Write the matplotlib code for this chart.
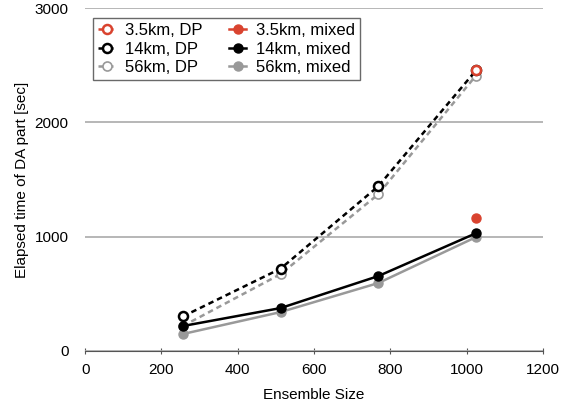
import matplotlib
matplotlib.use('Agg')
import matplotlib.pyplot as plt

plt.rcParams['font.family'] = ['Liberation Sans', 'DejaVu Sans']

ens = [256, 512, 768, 1024]
ens_3p5 = [1024]
dp_3p5 = [2462]
mx_3p5 = [1160]
dp_14 = [302, 720, 1441, 2455]
dp_56 = [218, 672, 1371, 2410]
mx_14 = [218, 375, 655, 1030]
mx_56 = [148, 340, 594, 996]

red = '#d9432f'
grey = '#999999'

fig = plt.figure(figsize=(5.64, 4.09), dpi=100)
ax = fig.add_axes([0.151, 0.142, 0.812, 0.838])

ms = 6.5
dash = (2.2, 1.6)
ax.plot(ens_3p5, dp_3p5, '--', dashes=dash, color=red, lw=1.8, marker='o', mfc='white', mec=red, mew=1.8, ms=ms, label='3.5km, DP', zorder=5)
ax.plot(ens_3p5, mx_3p5, '-', color=red, lw=1.8, marker='o', mfc=red, mec=red, ms=ms, label='3.5km, mixed', zorder=5)
ax.plot(ens, dp_14, '--', dashes=dash, color='black', lw=1.8, marker='o', mfc='white', mec='black', mew=1.8, ms=ms, label='14km, DP', zorder=4)
ax.plot(ens, mx_14, '-', color='black', lw=1.8, marker='o', mfc='black', mec='black', ms=ms, label='14km, mixed', zorder=4)
ax.plot(ens, dp_56, '--', dashes=dash, color=grey, lw=1.8, marker='o', mfc='white', mec=grey, mew=1.2, ms=ms, label='56km, DP', zorder=3)
ax.plot(ens, mx_56, '-', color=grey, lw=1.8, marker='o', mfc=grey, mec=grey, ms=ms, label='56km, mixed', zorder=3)

ax.set_xlim(0, 1200)
ax.set_ylim(0, 3000)
ax.set_xticks(range(0, 1201, 200))
ax.set_yticks([0, 1000, 2000, 3000])
ax.yaxis.grid(True, color='#aaaaaa', lw=1.2)
ax.set_axisbelow(True)
for s in ['left', 'right', 'top']:
    ax.spines[s].set_visible(False)
ax.spines['bottom'].set_color('#555555')
ax.tick_params(axis='y', length=0, pad=12, labelsize=11)
ax.tick_params(axis='x', direction='inout', length=5, color='#555555', labelsize=11, pad=6)
ax.set_xlabel('Ensemble Size', fontsize=11, labelpad=8)
ax.set_ylabel('Elapsed time of DA part [sec]', fontsize=11, labelpad=4)

h, l = ax.get_legend_handles_labels()
order = [0, 2, 4, 1, 3, 5]
leg = ax.legend([h[i] for i in order], [l[i] for i in order], ncol=2, loc='upper left',
                bbox_to_anchor=(0.0, 0.995), fontsize=12, frameon=True, fancybox=False,
                handlelength=1.0, columnspacing=1.6, handletextpad=0.6, borderpad=0.3,
                labelspacing=0.2, borderaxespad=0.5)
leg.get_frame().set_edgecolor('#444444')
leg.get_frame().set_linewidth(1.0)
leg.set_zorder(10)

fig.savefig('out.png', dpi=100)
